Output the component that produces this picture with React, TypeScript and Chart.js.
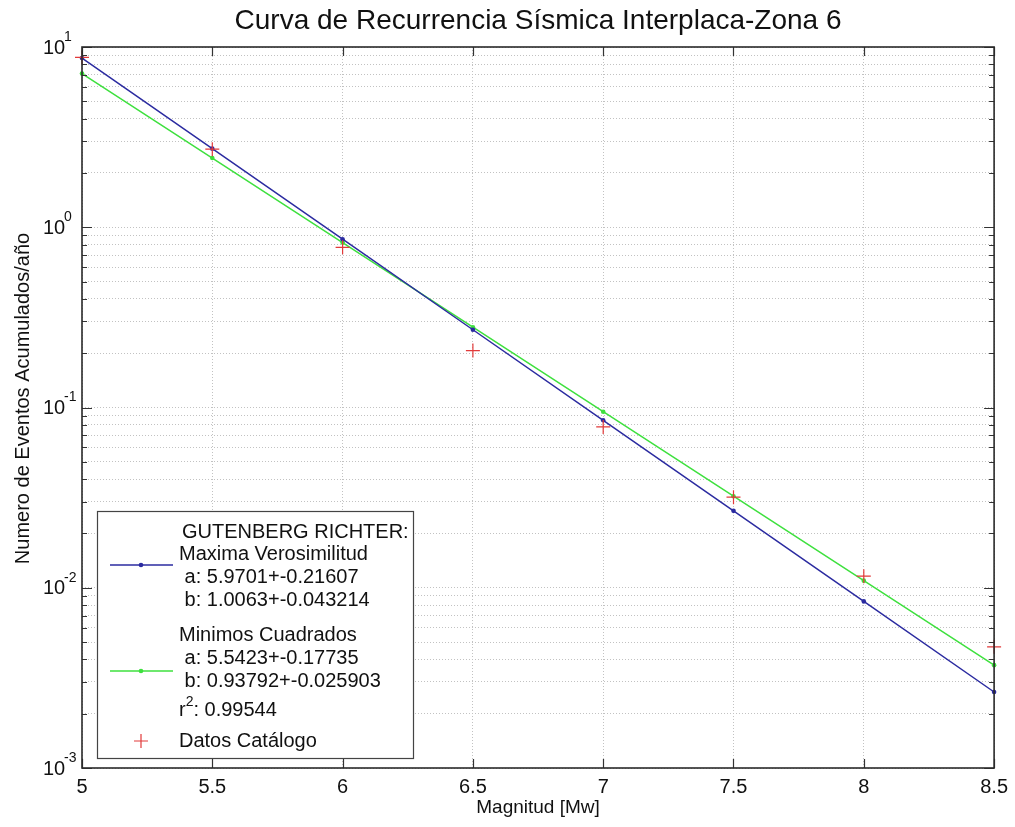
import React, { useEffect, useRef } from 'react';
import { Chart, registerables } from 'chart.js';

Chart.register(...registerables);

// ---- Data ----
const magnitudes = [5, 5.5, 6, 6.5, 7, 7.5, 8, 8.5];
const maximaVerosimilitud = [8.68, 2.73, 0.858, 0.27, 0.0849, 0.0267, 0.0084, 0.00264];
const minimosCuadrados = [7.12, 2.42, 0.822, 0.279, 0.0948, 0.0322, 0.01095, 0.00372];
const datosCatalogo = [8.75, 2.71, 0.774, 0.207, 0.078, 0.0318, 0.0116, 0.0047];

const xTickValues = [5, 5.5, 6, 6.5, 7, 7.5, 8, 8.5];
const yDecadeExponents = [-3, -2, -1, 0, 1];
const yMinorMultipliers = [1, 2, 3, 4, 5, 6, 7, 8, 9];

const chartTitle = 'Curva de Recurrencia Sísmica Interplaca-Zona 6';
const xAxisTitle = 'Magnitud [Mw]';
const yAxisTitle = 'Numero de Eventos Acumulados/año';

const legendHeader = 'GUTENBERG RICHTER:';
const legendMV = ['Maxima Verosimilitud', ' a: 5.9701+-0.21607', ' b: 1.0063+-0.043214'];
const legendMC = ['Minimos Cuadrados', ' a: 5.5423+-0.17735', ' b: 0.93792+-0.025903'];
const legendR2 = ['r', '2', ': 0.99544'];
const legendDatos = 'Datos Catálogo';

const COLOR_MV = '#2b2ba0';
const COLOR_MC = '#3ee03e';
const COLOR_DATA = '#e23a3a';
const FONT = '"Liberation Sans", Arial, Helvetica, sans-serif';

function buildYTicks(): number[] {
  const out: number[] = [];
  for (const e of yDecadeExponents) {
    if (e === yDecadeExponents[yDecadeExponents.length - 1]) {
      out.push(Math.pow(10, e));
    } else {
      for (const m of yMinorMultipliers) out.push(m * Math.pow(10, e));
    }
  }
  return out;
}

const decorPlugin = {
  id: 'decor',
  afterDraw(chart: any) {
    const { ctx, chartArea, scales } = chart;
    const { left, right, top, bottom } = chartArea;
    const x = scales.x;
    const y = scales.y;
    ctx.save();

    // inward ticks
    ctx.strokeStyle = '#333';
    ctx.lineWidth = 1.2;
    ctx.beginPath();
    y.ticks.forEach((t: any) => {
      const py = Math.round(y.getPixelForValue(t.value)) + 0.5;
      const lg = Math.log10(t.value);
      const major = Math.abs(lg - Math.round(lg)) < 1e-9;
      const len = major ? 10 : 5;
      ctx.moveTo(left, py);
      ctx.lineTo(left + len, py);
      ctx.moveTo(right, py);
      ctx.lineTo(right - len, py);
    });
    x.ticks.forEach((t: any) => {
      const px = Math.round(x.getPixelForValue(t.value)) + 0.5;
      ctx.moveTo(px, bottom);
      ctx.lineTo(px, bottom - 9);
      ctx.moveTo(px, top);
      ctx.lineTo(px, top + 9);
    });
    ctx.stroke();

    // box
    ctx.lineWidth = 1.6;
    ctx.strokeStyle = '#2a2a2a';
    ctx.strokeRect(left, top, right - left, bottom - top);

    // y tick labels (10^n)
    ctx.fillStyle = '#111';
    ctx.textBaseline = 'middle';
    ctx.textAlign = 'left';
    for (const e of yDecadeExponents) {
      const py = y.getPixelForValue(Math.pow(10, e));
      ctx.font = `20px ${FONT}`;
      ctx.fillText('10', 43, py + 1);
      ctx.font = `14px ${FONT}`;
      ctx.fillText(String(e), 64, py - 10);
    }

    // title
    ctx.textAlign = 'center';
    ctx.font = `28px ${FONT}`;
    ctx.fillText(chartTitle, (left + right) / 2, 21);

    // axis titles
    ctx.font = `19px ${FONT}`;
    ctx.fillText(xAxisTitle, (left + right) / 2, 808);
    ctx.save();
    ctx.font = `20px ${FONT}`;
    ctx.translate(23, (top + bottom) / 2 - 9);
    ctx.rotate(-Math.PI / 2);
    ctx.fillText(yAxisTitle, 0, 0);
    ctx.restore();

    // legend
    const bx = 97, by = 511, bw = 316, bh = 247;
    ctx.fillStyle = '#fff';
    ctx.fillRect(bx, by, bw, bh);
    ctx.lineWidth = 1.2;
    ctx.strokeStyle = '#444';
    ctx.strokeRect(bx + 0.5, by + 0.5, bw, bh);

    ctx.fillStyle = '#111';
    ctx.textAlign = 'left';
    ctx.font = `20px ${FONT}`;
    ctx.fillText(legendHeader, 182, 532);
    const mvY = [554, 577, 600];
    legendMV.forEach((s, i) => ctx.fillText(s, 179, mvY[i]));
    const mcY = [635, 658, 681];
    legendMC.forEach((s, i) => ctx.fillText(s, 179, mcY[i]));
    ctx.fillText(legendR2[0], 179, 710);
    const rW = ctx.measureText(legendR2[0]).width;
    ctx.font = `14px ${FONT}`;
    ctx.fillText(legendR2[1], 179 + rW, 702);
    const sW = ctx.measureText(legendR2[1]).width;
    ctx.font = `20px ${FONT}`;
    ctx.fillText(legendR2[2], 179 + rW + sW, 710);
    ctx.fillText(legendDatos, 179, 741);

    // legend samples
    const drawSample = (cy: number, color: string) => {
      ctx.strokeStyle = color;
      ctx.lineWidth = 1.5;
      ctx.beginPath();
      ctx.moveTo(110, cy);
      ctx.lineTo(173, cy);
      ctx.stroke();
      ctx.fillStyle = color;
      ctx.beginPath();
      ctx.arc(141, cy, 2.3, 0, Math.PI * 2);
      ctx.fill();
    };
    drawSample(565, COLOR_MV);
    drawSample(671, COLOR_MC);
    ctx.strokeStyle = COLOR_DATA;
    ctx.lineWidth = 1.2;
    ctx.beginPath();
    ctx.moveTo(134, 741);
    ctx.lineTo(148, 741);
    ctx.moveTo(141, 734);
    ctx.lineTo(141, 748);
    ctx.stroke();

    ctx.restore();
  },
};

export default function App() {
  const canvasRef = useRef<HTMLCanvasElement | null>(null);

  useEffect(() => {
    document.body.style.margin = '0';
    const canvas = canvasRef.current;
    if (!canvas) return;
    const toPts = (ys: number[]) => magnitudes.map((m, i) => ({ x: m, y: ys[i] }));
    const yTicks = buildYTicks();

    const chart = new Chart(canvas, {
      type: 'line',
      data: {
        datasets: [
          {
            label: 'Datos Catálogo',
            data: toPts(datosCatalogo),
            showLine: false,
            pointStyle: 'cross',
            pointRadius: 7,
            pointBorderWidth: 1.2,
            borderColor: COLOR_DATA,
            backgroundColor: COLOR_DATA,
            clip: false as any,
          },
          {
            label: 'Maxima Verosimilitud',
            data: toPts(maximaVerosimilitud),
            borderColor: COLOR_MV,
            backgroundColor: COLOR_MV,
            borderWidth: 1.5,
            pointRadius: 2.3,
            pointBorderWidth: 0,
            tension: 0,
            clip: false as any,
          },
          {
            label: 'Minimos Cuadrados',
            data: toPts(minimosCuadrados),
            borderColor: COLOR_MC,
            backgroundColor: COLOR_MC,
            borderWidth: 1.5,
            pointRadius: 2.3,
            pointBorderWidth: 0,
            tension: 0,
            clip: false as any,
          },
        ],
      },
      options: {
        responsive: false,
        animation: false,
        devicePixelRatio: 1,
        layout: { padding: { left: 0, right: 17, top: 47, bottom: 0 } },
        plugins: {
          legend: { display: false },
          title: { display: false },
          tooltip: { enabled: false },
        },
        scales: {
          x: {
            type: 'linear',
            min: 5,
            max: 8.5,
            afterBuildTicks: (s: any) => {
              s.ticks = xTickValues.map((v) => ({ value: v }));
            },
            afterFit: (s: any) => {
              s.height = 59;
            },
            grid: { color: '#c2c2c2', lineWidth: 1, drawTicks: false },
            border: { display: false, dash: [1, 2] },
            ticks: {
              padding: 7,
              color: '#111',
              font: { family: FONT, size: 20 },
              maxRotation: 0,
              autoSkip: false,
              callback: (v: any) => String(v),
            },
          },
          y: {
            type: 'logarithmic',
            min: 0.001,
            max: 10,
            afterBuildTicks: (s: any) => {
              s.ticks = yTicks.map((v) => ({ value: v }));
            },
            afterFit: (s: any) => {
              s.width = 82;
            },
            grid: { color: '#c2c2c2', lineWidth: 1, drawTicks: false },
            border: { display: false, dash: [1, 2] },
            ticks: { display: false },
          },
        },
      },
      plugins: [decorPlugin],
    } as any);

    return () => chart.destroy();
  }, []);

  return (
    <div style={{ position: 'absolute', left: 0, top: 0, width: 1015, height: 827, background: '#fff' }}>
      <canvas ref={canvasRef} width={1015} height={827} />
    </div>
  );
}
